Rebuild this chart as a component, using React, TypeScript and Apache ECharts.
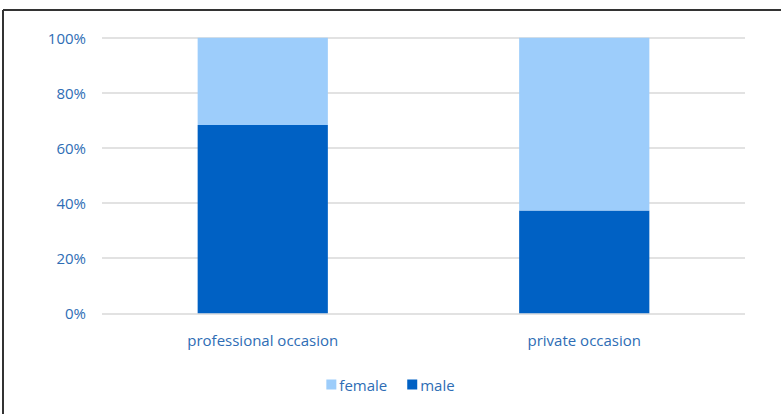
import React, { useEffect, useRef } from "react";
import * as echarts from "echarts";

const categories = ["professional occasion", "private occasion"];
const maleValues = [68.3, 37.3];
const femaleValues = [31.7, 62.7];
const yTicks = [0, 20, 40, 60, 80, 100];

export default function App() {
  const ref = useRef<HTMLDivElement>(null);
  useEffect(() => {
    if (!ref.current) return;
    const chart = echarts.init(ref.current, undefined, { renderer: "svg" });
    const textColor = "#2e6db5";
    chart.setOption({
      animation: false,
      backgroundColor: "#ffffff",
      textStyle: { fontFamily: "Open Sans" },
      grid: { left: 102, right: 36, top: 37.7, bottom: 100.7 },
      xAxis: {
        type: "category",
        data: categories,
        axisLine: { show: false },
        axisTick: { show: false },
        axisLabel: { color: textColor, fontSize: 15, margin: 19, fontFamily: "Open Sans" },
      },
      yAxis: {
        type: "value",
        min: 0,
        max: 100,
        interval: 20,
        axisLine: { show: false },
        axisTick: { show: false },
        splitLine: { lineStyle: { color: "#d9d9d9", width: 1.5 } },
        axisLabel: {
          color: textColor,
          fontSize: 15,
          margin: 16,
          fontFamily: "Open Sans",
          formatter: (v: number) => (yTicks.includes(v) ? v + "%" : ""),
        },
      },
      legend: {
        bottom: 17,
        left: "center",
        itemWidth: 10,
        itemHeight: 10,
        itemGap: 20,
        icon: "rect",
        textStyle: { color: textColor, fontSize: 15, padding: [0, 0, 0, -2] },
        data: ["female", "male"],
      },
      series: [
        {
          name: "male",
          type: "bar",
          stack: "total",
          barWidth: "40.5%",
          data: maleValues,
          itemStyle: { color: "#0061c4" },
        },
        {
          name: "female",
          type: "bar",
          stack: "total",
          barWidth: "40.5%",
          data: femaleValues,
          itemStyle: { color: "#9dcdfb" },
        },
      ],
      graphic: [
        { type: "line", shape: { x1: 3, y1: 10, x2: 781, y2: 10 }, style: { stroke: "#333", lineWidth: 2 } },
        { type: "line", shape: { x1: 3, y1: 10, x2: 3, y2: 414 }, style: { stroke: "#333", lineWidth: 2 } },
      ],
    });
    return () => chart.dispose();
  }, []);
  return (
    <div
      ref={ref}
      style={{ position: "fixed", left: 0, top: 0, width: 781, height: 414 }}
    />
  );
}
